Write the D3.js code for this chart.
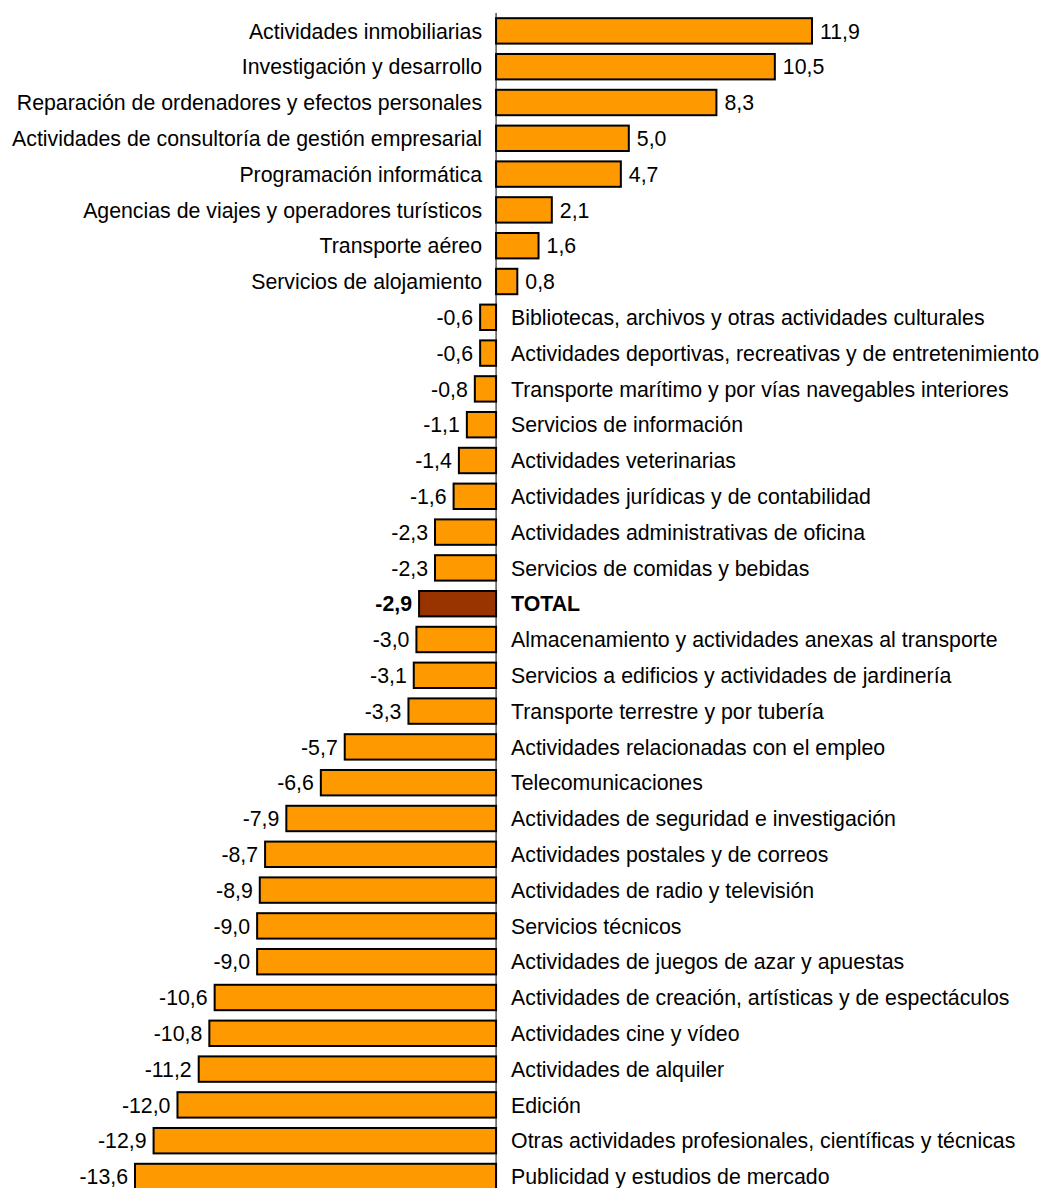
<!DOCTYPE html>
<html>
<head>
<meta charset="utf-8">
<script src="https://cdn.jsdelivr.net/npm/d3@7"></script>
<style>
  html, body { margin: 0; padding: 0; background: #fff; }
  svg { display: block; }
  text { font-family: "Liberation Sans", Arial, sans-serif; }
</style>
</head>
<body>
<svg id="chart" width="1041" height="1188"></svg>
<script>
const categories = [
  "Actividades inmobiliarias",
  "Investigación y desarrollo",
  "Reparación de ordenadores y efectos personales",
  "Actividades de consultoría de gestión empresarial",
  "Programación informática",
  "Agencias de viajes y operadores turísticos",
  "Transporte aéreo",
  "Servicios de alojamiento",
  "Bibliotecas, archivos y otras actividades culturales",
  "Actividades deportivas, recreativas y de entretenimiento",
  "Transporte marítimo y por vías navegables interiores",
  "Servicios de información",
  "Actividades veterinarias",
  "Actividades jurídicas y de contabilidad",
  "Actividades administrativas de oficina",
  "Servicios de comidas y bebidas",
  "TOTAL",
  "Almacenamiento y actividades anexas al transporte",
  "Servicios a edificios y actividades de jardinería",
  "Transporte terrestre y por tubería",
  "Actividades relacionadas con el empleo",
  "Telecomunicaciones",
  "Actividades de seguridad e investigación",
  "Actividades postales y de correos",
  "Actividades de radio y televisión",
  "Servicios técnicos",
  "Actividades de juegos de azar y apuestas",
  "Actividades de creación, artísticas y de espectáculos",
  "Actividades cine y vídeo",
  "Actividades de alquiler",
  "Edición",
  "Otras actividades profesionales, científicas y técnicas",
  "Publicidad y estudios de mercado"
];
const values = [
  11.9, 10.5, 8.3, 5.0, 4.7, 2.1, 1.6, 0.8,
  -0.6, -0.6, -0.8, -1.1, -1.4, -1.6, -2.3, -2.3,
  -2.9,
  -3.0, -3.1, -3.3, -5.7, -6.6, -7.9, -8.7, -8.9,
  -9.0, -9.0, -10.6, -10.8, -11.2, -12.0, -12.9, -13.6
];
const totalLabel = "TOTAL";

const data = categories.map((c, i) => ({ cat: c, val: values[i] }));
const fmt = v => v.toFixed(1).replace(".", ",");

const svg = d3.select("#chart");
const x = d3.scaleLinear().domain([d3.min(values), d3.max(values)]).range([135, 812]);
const step = 35.8;
const y = d3.scaleBand().domain(categories)
  .range([13, 13 + categories.length * step])
  .paddingInner(0.29).paddingOuter(0.145);

const x0 = x(0);
const fontSize = 21.3;

// bars
svg.append("g").selectAll("rect").data(data).join("rect")
  .attr("x", d => Math.min(x(d.val), x0))
  .attr("y", d => y(d.cat))
  .attr("width", d => Math.abs(x(d.val) - x0))
  .attr("height", y.bandwidth())
  .attr("fill", d => d.cat === totalLabel ? "#993300" : "#FF9900")
  .attr("stroke", "#000")
  .attr("stroke-width", 2);

// zero axis line
svg.append("line")
  .attr("x1", x0).attr("x2", x0)
  .attr("y1", 13).attr("y2", 1188)
  .attr("stroke", "#000").attr("stroke-width", 1);

// category labels
svg.append("g").selectAll("text").data(data).join("text")
  .attr("x", d => d.val >= 0 ? x0 - 14 : x0 + 15)
  .attr("y", d => y(d.cat) + y.bandwidth() / 2)
  .attr("dy", "0.36em")
  .attr("text-anchor", d => d.val >= 0 ? "end" : "start")
  .attr("font-size", fontSize)
  .attr("font-weight", d => d.cat === totalLabel ? "bold" : "normal")
  .attr("fill", "#000")
  .text(d => d.cat);

// value labels
svg.append("g").selectAll("text").data(data).join("text")
  .attr("x", d => d.val >= 0 ? x(d.val) + 8 : x(d.val) - 7)
  .attr("y", d => y(d.cat) + y.bandwidth() / 2)
  .attr("dy", "0.36em")
  .attr("text-anchor", d => d.val >= 0 ? "start" : "end")
  .attr("font-size", fontSize)
  .attr("font-weight", d => d.cat === totalLabel ? "bold" : "normal")
  .attr("fill", "#000")
  .text(d => fmt(d.val));
</script>
</body>
</html>
